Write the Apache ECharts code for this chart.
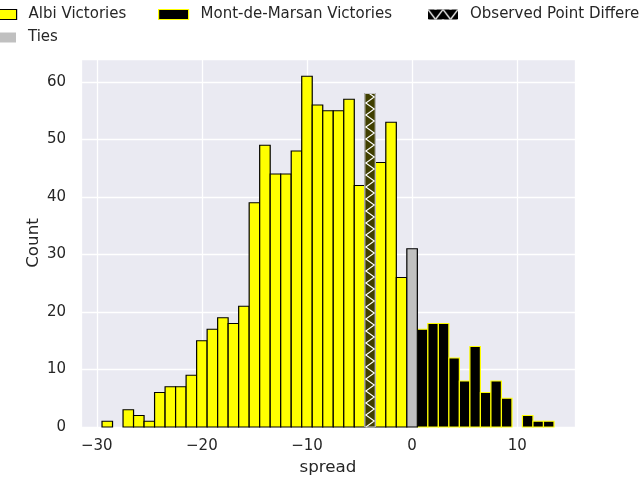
<!DOCTYPE html>
<html>
<head>
<meta charset="utf-8">
<script src="https://cdn.jsdelivr.net/npm/echarts@6/dist/echarts.min.js"></script>
<style>html,body{margin:0;padding:0;background:#fff}#c{width:640px;height:480px}</style>
</head>
<body>
<div id="c"></div>
<script>
// ---- data ----
const albiSpread = [-29,-28,-27,-26,-25,-24,-23,-22,-21,-20,-19,-18,-17,-16,-15,-14,-13,-12,-11,-10,-9,-8,-7,-6,-5,-4,-3,-2,-1];
const albiCounts = [1,0,3,2,1,6,7,7,9,15,17,19,18,21,39,49,44,44,48,61,56,55,55,57,42,58,46,53,26];
const mdmSpread = [1,2,3,4,5,6,7,8,9,10,11,12,13];
const mdmCounts = [17,18,18,12,8,14,6,8,5,0,2,1,1];
const tieSpread = [0];
const tieCounts = [31];
const observedSpread = [-4];
const observedCounts = [58];
const xTicks = [-30,-20,-10,0,10];
const yTicks = [0,10,20,30,40,50,60];

const FONT = 'DejaVu Sans';
const TXT = '#262626';

function pairs(xs, ys){ return xs.map((x,i)=>[x, ys[i]]); }

function barRender(fill, stroke){
  return function(params, api){
    const x = api.value(0), y = api.value(1);
    if (!y) return null;
    const p0 = api.coord([x-0.5, 0]);
    const p1 = api.coord([x+0.5, y]);
    return {type:'rect', shape:{x:p0[0], y:p1[1], width:p1[0]-p0[0], height:p0[1]-p1[1]},
      style:{fill:fill, stroke:stroke, lineWidth:1.2}};
  };
}

function zigzag(x0, x1, yb, yt, half, startLeft){
  const pts = [];
  let y = yb, left = startLeft;
  pts.push([left?x0:x1, y]);
  while (y - half > yt){
    y -= half; left = !left;
    pts.push([left?x0:x1, y]);
  }
  const frac = (y - yt)/half;
  const cx = left?x0:x1, ox = left?x1:x0;
  pts.push([cx + (ox-cx)*frac, yt]);
  return pts;
}

function hatchRender(params, api){
  const x = api.value(0), y = api.value(1);
  const p0 = api.coord([x-0.5, 0]);
  const p1 = api.coord([x+0.5, y]);
  const x0 = p0[0], x1 = p1[0], yb = p0[1], yt = p1[1];
  const half = 6;
  return {type:'group', children:[
    {type:'rect', shape:{x:x0, y:yt, width:x1-x0, height:yb-yt}, style:{fill:'#403f00', stroke:null}},
    {type:'polyline', shape:{points:zigzag(x0+1, x1-1, yb, yt, half, true)}, style:{stroke:'#ffffff', lineWidth:1.1, fill:null}},
    {type:'rect', shape:{x:x0, y:yt, width:x1-x0, height:yb-yt}, style:{fill:null, stroke:'#c8c8c8', lineWidth:1.2}}
  ]};
}

// legend hatch pattern
const pat = document.createElement('canvas');
pat.width = 15; pat.height = 10;
(function(){
  const g = pat.getContext('2d');
  g.fillStyle = '#000000'; g.fillRect(0,0,15,10);
  g.strokeStyle = '#ffffff'; g.lineWidth = 1.3;
  g.beginPath(); g.moveTo(0,0); g.lineTo(7.5,10); g.lineTo(15,0); g.stroke();
})();

function legend(name, left, top, itemStyle){
  return {
    data:[{name:name, icon:'rect', itemStyle:itemStyle}],
    left:left, top:top, padding:0, itemWidth:30, itemHeight:10,
    selectedMode:false,
    textStyle:{fontFamily:FONT, fontSize:15, color:TXT, padding:[0,0,0,7]}
  };
}

const chart = echarts.init(document.getElementById('c'), null, {renderer:'canvas'});
chart.setOption({
  animation:false,
  backgroundColor:'#ffffff',
  legend:[
    legend('Albi Victories', -14, 7, {color:'#ffff00', borderColor:'#000000', borderWidth:1.2}),
    legend('Mont-de-Marsan Victories', 158, 7, {color:'#000000', borderColor:'#ffff00', borderWidth:1.2}),
    legend('Observed Point Difference', 428, 7, {color:{image:pat, repeat:'repeat'}, borderColor:'#c8c8c8', borderWidth:0}),
    legend('Ties', -14, 30, {color:'#c0c0c0', borderColor:'#c0c0c0', borderWidth:0})
  ],
  grid:{left:81, right:65, top:59, bottom:53, show:true, backgroundColor:'#eaeaf2', borderWidth:0,
    outerBoundsMode:'none', containLabel:false},
  xAxis:{
    type:'value', min:-31.5, max:15.5,
    name:'spread', nameLocation:'middle', nameGap:32, nameMoveOverlap:false,
    nameTextStyle:{fontFamily:FONT, fontSize:16.7, color:TXT},
    axisLine:{show:false}, axisTick:{show:false},
    axisLabel:{fontFamily:FONT, fontSize:15, color:TXT, margin:12, showMinLabel:true, showMaxLabel:true,
      formatter:v => xTicks.indexOf(v) >= 0 ? (v<0 ? '\u2212'+Math.abs(v) : String(v)) : ''},
    splitLine:{show:true, lineStyle:{color:'#ffffff', width:1.3}}
  },
  yAxis:{
    type:'value', min:0, max:64, interval:10,
    name:'Count', nameLocation:'middle', nameGap:39, nameMoveOverlap:false,
    nameTextStyle:{fontFamily:FONT, fontSize:16.7, color:TXT},
    axisLine:{show:false}, axisTick:{show:false},
    axisLabel:{fontFamily:FONT, fontSize:15, color:TXT, margin:15,
      formatter:v => yTicks.indexOf(v) >= 0 ? String(v) : ''},
    splitLine:{show:true, lineStyle:{color:'#ffffff', width:1.3}}
  },
  series:[
    {name:'Albi Victories', type:'custom', renderItem:barRender('#ffff00','#000000'),
      data:pairs(albiSpread, albiCounts), encode:{x:0,y:1}, itemStyle:{color:'#ffff00'}},
    {name:'Mont-de-Marsan Victories', type:'custom', renderItem:barRender('#000000','#ffff00'),
      data:pairs(mdmSpread, mdmCounts), encode:{x:0,y:1}, itemStyle:{color:'#000000'}},
    {name:'Ties', type:'custom', renderItem:barRender('#c0c0c0','#000000'),
      data:pairs(tieSpread, tieCounts), encode:{x:0,y:1}, itemStyle:{color:'#c0c0c0'}},
    {name:'Observed Point Difference', type:'custom', renderItem:hatchRender,
      data:pairs(observedSpread, observedCounts), encode:{x:0,y:1}, itemStyle:{color:'#403f00'}}
  ]
});
</script>
</body>
</html>
